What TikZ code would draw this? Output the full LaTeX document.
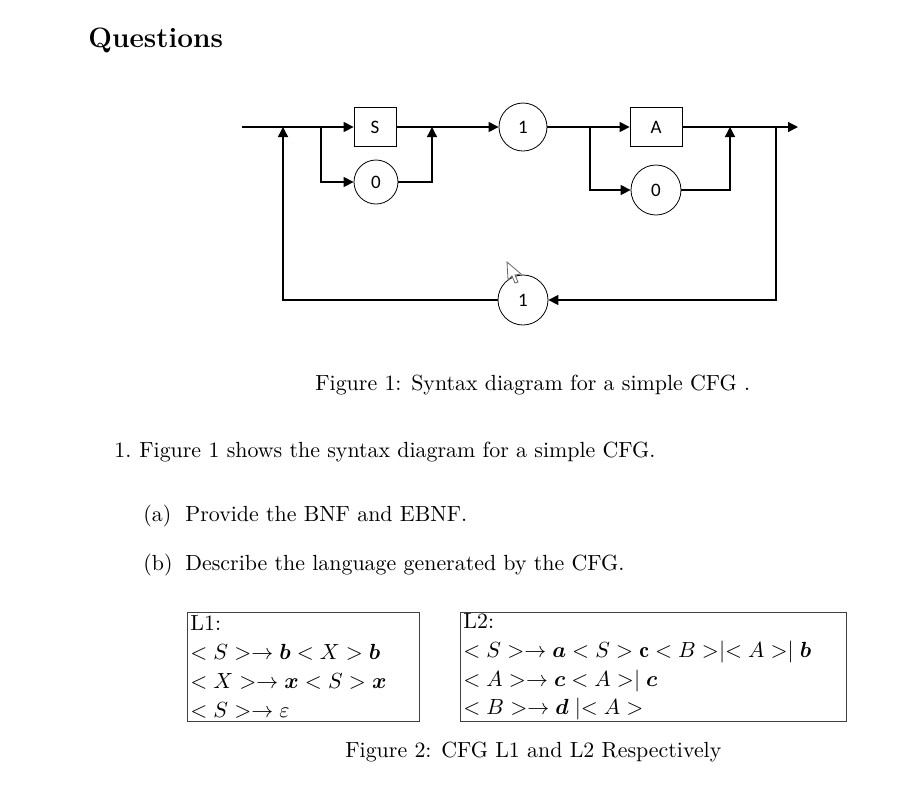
\documentclass[tikz,border=0pt]{standalone}
\usepackage{amsmath}
\usepackage{fontspec}
\newfontfamily\diagfont{Carlito}
\usetikzlibrary{arrows.meta}
\newcommand{\bodysize}{\fontsize{10.95}{13.6}\selectfont}

\begin{document}
\begin{tikzpicture}[x=0.5pt,y=-0.5pt,
    term/.style={draw,minimum width=21pt,minimum height=19.5pt,inner sep=0pt,font=\diagfont\fontsize{9.5}{11}\selectfont},
    tok/.style={draw,circle,inner sep=0pt,font=\diagfont\fontsize{9.5}{11}\selectfont},
    flow/.style={-{Triangle[length=5pt,width=5pt]},line width=0.7pt},
    grammar/.style={draw=black!75,align=left,anchor=north west,inner xsep=1.5pt,inner ysep=0.5pt,minimum height=54.5pt,font=\bodysize},
    txt/.style={anchor=base west,inner sep=0pt,font=\bodysize}]
  \useasboundingbox (0,0) rectangle (918,789);

  \node[txt,font=\fontsize{14}{17}\selectfont\bfseries] (title) at (88,47) {Questions};

  % syntax diagram
  \coordinate (in) at (242,127);
  \node[term] (s) at (375,127) {S};
  \node[tok,minimum size=22pt] (z1) at (376,182) {0};
  \node[tok,minimum size=24pt] (one) at (523,127) {1};
  \node[term,minimum width=26pt] (a) at (656,127) {A};
  \node[tok,minimum size=25pt] (z2) at (656,190) {0};
  \node[tok,minimum size=25pt] (back) at (523,300) {1};
  \coordinate (out) at (798,127);
  \coordinate (fork1) at (321,127);
  \coordinate (join1) at (432,127);
  \coordinate (fork2) at (590,127);
  \coordinate (join2) at (730,127);
  \coordinate (loopout) at (776,127);
  \coordinate (loopin) at (283,127);

  \draw[flow] (in) -- (s);
  \draw[flow] (fork1) |- (z1);
  \draw[flow] (z1) -| (join1);
  \draw[flow] (s) -- (one);
  \draw[flow] (one) -- (a);
  \draw[flow] (fork2) |- (z2);
  \draw[flow] (z2) -| (join2);
  \draw[flow] (a) -- (out);
  \draw[flow] (loopout) |- (back);
  \draw[flow] (back) -| (loopin);

  % mouse pointer
  \draw[black!60,fill=white,line width=0.4pt] (507,262) -- (508,280) -- (512,276) -- (515,283)
    -- (518,282) -- (515,275) -- (521,274) -- cycle;

  \node[txt] (cap1) at (315,390) {Figure 1: Syntax diagram for a simple CFG .};

  % question text
  \node[txt] (q1n) at (114,457) {1.};
  \node[txt] (q1) at (139,457) {Figure 1 shows the syntax diagram for a simple CFG.};
  \node[txt] (qan) at (143,521) {(a)};
  \node[txt] (qa) at (185,521) {Provide the BNF and EBNF.};
  \node[txt] (qbn) at (143,570) {(b)};
  \node[txt] (qb) at (185,570) {Describe the language generated by the CFG.};

  % grammars
  \node[grammar,text width=113pt] (lone) at (187,612) {L1:\\[0.8pt]
    $<S>\rightarrow\boldsymbol{b}<X>\boldsymbol{b}$\\[0.8pt]
    $<X>\rightarrow\boldsymbol{x}<S>\boldsymbol{x}$\\[0.8pt]
    $<S>\rightarrow\varepsilon$};
  \node[grammar,text width=190pt] (ltwo) at (460,612) {L2:\\[0.8pt]
    $<S>\rightarrow\boldsymbol{a}<S>\mathbf{c}<B>\mathrel{|}<A>\mathrel{|}\boldsymbol{b}$\\[0.8pt]
    $<A>\rightarrow\boldsymbol{c}<A>\mathrel{|}\boldsymbol{c}$\\[0.8pt]
    $<B>\rightarrow\boldsymbol{d}\mathrel{|}<A>$};

  \node[txt] (cap2) at (345,757) {Figure 2: CFG L1 and L2 Respectively};
\end{tikzpicture}
\end{document}
